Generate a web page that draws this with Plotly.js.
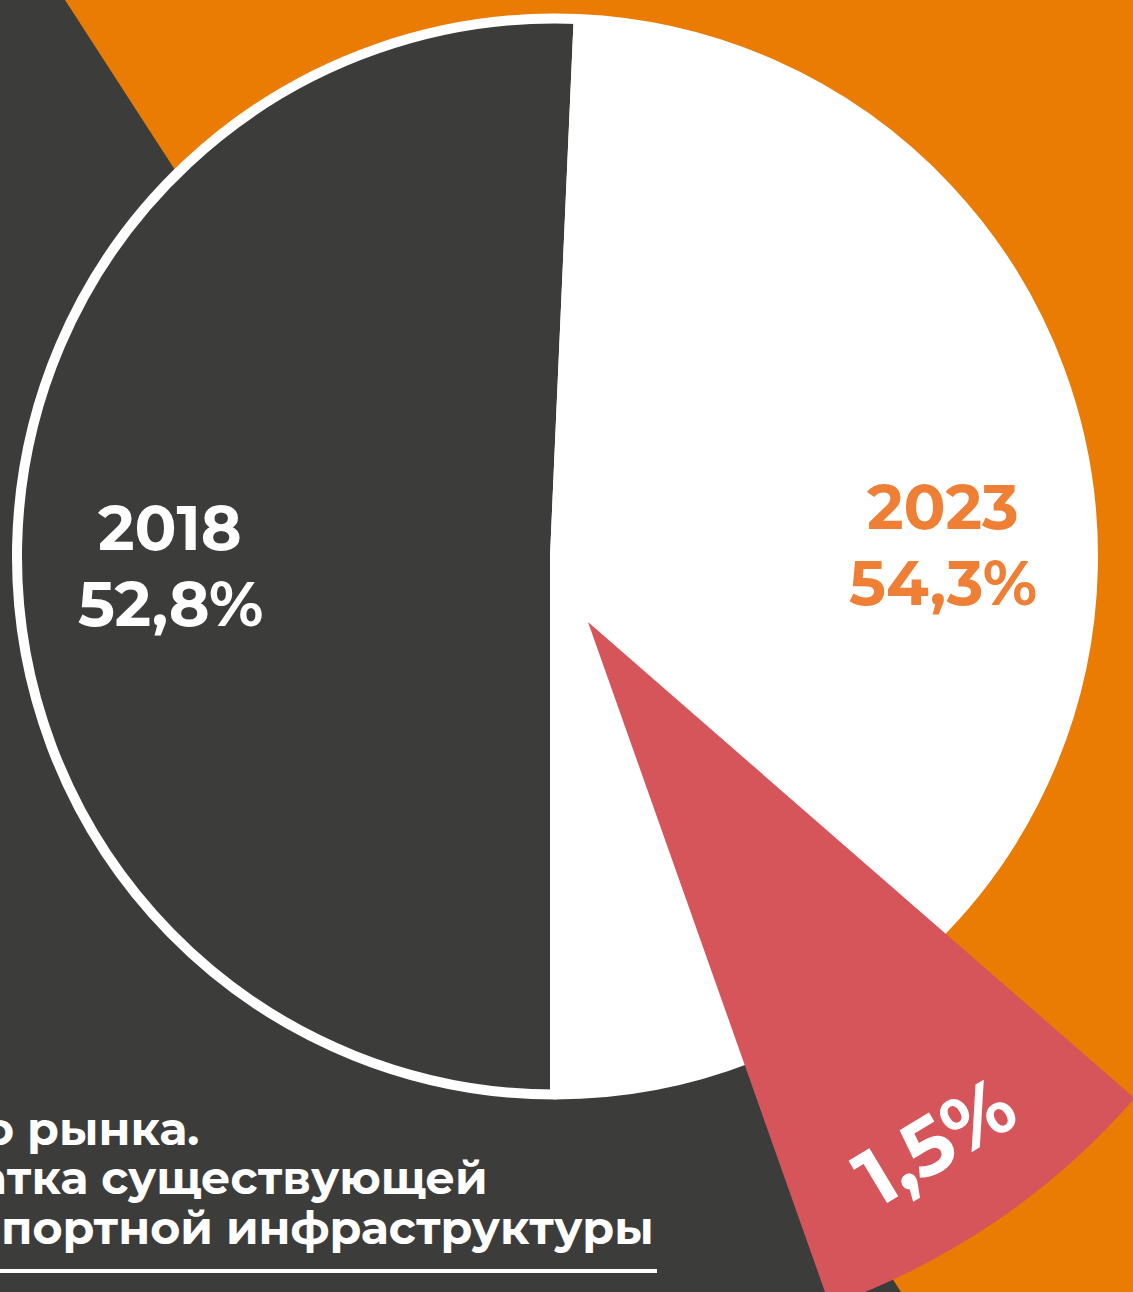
<!DOCTYPE html>
<html>
<head>
<meta charset="utf-8">
<script src="https://cdn.plot.ly/plotly-3.0.1.min.js"></script>
<style>
  html, body { margin: 0; padding: 0; width: 1133px; height: 1292px; overflow: hidden; background: #EA7B03; }
  #chart { position: absolute; }
</style>
</head>
<body>
<div id="chart"></div>
<script>
// ---- data ----
const years = ["2018", "2023"];
const shares = [52.8, 54.3];
const shareLabels = ["52,8%", "54,3%"];
const diffLabel = "1,5%";
const diffValue = 1.5;
const captionLines = ["о рынка.", "атка существующей", "портной инфраструктуры"];

// ---- style / layout ----
const ORANGE = "#EA7B03", DARK = "#3C3C3B", RED = "#D5555A", TXT_ORANGE = "#EE7F35";
const FONT = "Montserrat, 'Open Sans', sans-serif";
const W = 1500, H = 1500, L = 170, T = 110;   // canvas larger than the window, offset
const chart = document.getElementById("chart");
chart.style.left = (-L) + "px"; chart.style.top = (-T) + "px";
chart.style.width = W + "px"; chart.style.height = H + "px";

const px = x => (x + L) / W;
const py = y => 1 - (y + T) / H;
function domainFor(cx, cy, r) {
  return { x: [px(cx - r), px(cx + r)], y: [py(cy + r), py(cy - r)] };
}

// main pie (the source graphic sizes the dark half by the larger share)
const mainCenter = [555, 556.5], mainR = 538;

// exploded difference wedge
const wedgeApex = [588, 622], wedgeR = 725, wedgeStartDeg = 131.07, wedgeSpanDeg = 29.45;
const wedgeRest = diffValue * (360 / wedgeSpanDeg - 1);

const traces = [
  {
    type: "pie", values: [shares[1], shares[0]], labels: [years[1], years[0]], sort: false,
    direction: "clockwise", rotation: 180,
    marker: { colors: [DARK, "#FFFFFF"], line: { color: "#FFFFFF", width: 10 } },
    textinfo: "none", hoverinfo: "skip", showlegend: false,
    domain: domainFor(mainCenter[0], mainCenter[1], mainR)
  },
  {
    type: "pie", values: [diffValue, wedgeRest], labels: ["diff", "rest"], sort: false,
    direction: "clockwise", rotation: wedgeStartDeg,
    marker: { colors: [RED, "rgba(0,0,0,0)"], line: { width: 0 } },
    textinfo: "none", hoverinfo: "skip", showlegend: false,
    domain: domainFor(wedgeApex[0], wedgeApex[1], wedgeR)
  }
];

const slope = (901 - 65) / 1292;
const xAt = y => 65 + slope * y;
const bandPath = `M ${px(-L)} ${py(-T)} L ${px(xAt(-T))} ${py(-T)} L ${px(xAt(H - T))} ${py(H - T)} L ${px(-L)} ${py(H - T)} Z`;

function ann(text, x, y, size, color, extra) {
  return Object.assign({
    text: text, x: px(x), y: py(y), xref: "paper", yref: "paper",
    xanchor: "center", yanchor: "middle", showarrow: false,
    font: { family: FONT, size: size, color: color, weight: 700 }
  }, extra || {});
}

const annotations = [
  ann(years[0], 170, 528, 62, "#FFFFFF"),
  ann(shareLabels[0], 170, 604, 62, "#FFFFFF"),
  ann(years[1], 943, 507, 62, TXT_ORANGE),
  ann(shareLabels[1], 943, 583, 62, TXT_ORANGE),
  ann(diffLabel, 934, 1141, 80, "#FFFFFF", { textangle: -31 }),
  ann(captionLines[0], 201, 1128, 46, "#FFFFFF", { xanchor: "right" }),
  ann(captionLines[1], 490, 1177, 46, "#FFFFFF", { xanchor: "right" }),
  ann(captionLines[2], 656, 1227, 46, "#FFFFFF", { xanchor: "right" })
];

const layout = {
  width: W, height: H,
  margin: { l: 0, r: 0, t: 0, b: 0, pad: 0 },
  paper_bgcolor: ORANGE, plot_bgcolor: ORANGE,
  showlegend: false,
  shapes: [
    { type: "path", path: bandPath, xref: "paper", yref: "paper", fillcolor: DARK, line: { width: 0 }, layer: "below" },
    { type: "line", xref: "paper", yref: "paper", x0: px(-5), x1: px(657), y0: py(1271), y1: py(1271),
      line: { color: "#FFFFFF", width: 4 }, layer: "above" }
  ],
  annotations: annotations
};

Plotly.newPlot(chart, traces, layout, { staticPlot: true, displayModeBar: false });
</script>
</body>
</html>
